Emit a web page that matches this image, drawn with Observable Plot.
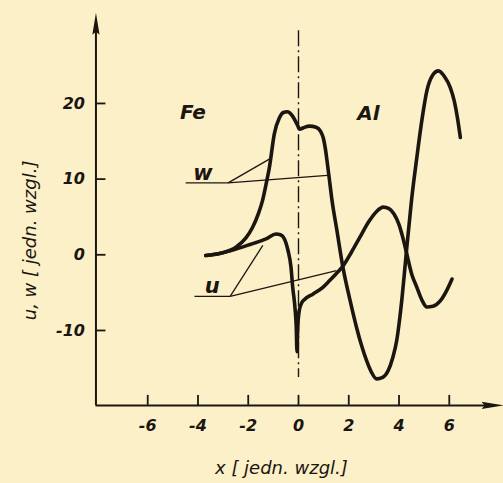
<!DOCTYPE html>
<html>
<head>
<meta charset="utf-8">
<script src="https://cdn.jsdelivr.net/npm/d3@7"></script>
<script src="https://cdn.jsdelivr.net/npm/@observablehq/plot@0.6"></script>
<style>
  html, body { margin: 0; padding: 0; background: #fbf0c8; }
  #chart svg { display: block; }
</style>
</head>
<body>
<div id="chart"></div>
<script>
// ---- data ----
const wCurve = [
  [-3.69,-0.1],[-3.1,0.2],[-2.49,1.0],[-2.1,2.2],[-1.83,3.6],[-1.6,5.4],[-1.43,7.2],[-1.28,9.5],
  [-1.16,11.5],[-0.96,16.0],[-0.76,18.1],[-0.6,18.8],[-0.45,18.9],[-0.25,18.4],[-0.05,17.2],[0.05,16.6],
  [0.2,16.8],[0.44,17.0],[0.7,16.85],[0.88,16.3],[0.99,15.4],[1.07,14.0],[1.14,12.3],[1.22,10.2],
  [1.35,6.8],[1.51,3.6],[1.77,-1.7],[2.05,-6.0],[2.31,-9.6],[2.51,-12.0],[2.71,-14.0],[2.9,-15.5],
  [3.11,-16.4],[3.35,-16.2],[3.57,-15.3],[3.75,-13.6],[3.91,-11.3],[4.01,-8.9],[4.11,-6.0],[4.21,-2.6],
  [4.31,1.0],[4.5,7.3],[4.71,12.9],[4.91,17.8],[5.11,21.7],[5.33,23.7],[5.57,24.3],[5.8,23.6],
  [6.04,22.1],[6.2,20.3],[6.33,18.0],[6.44,15.5]
];
const uCurve = [
  [-3.69,-0.1],[-3.1,0.2],[-2.49,0.75],[-1.9,1.4],[-1.29,2.1],[-0.89,2.75],[-0.72,2.65],[-0.56,2.1],
  [-0.42,0.6],[-0.3,-1.6],[-0.23,-4.3],[-0.14,-7.0],[-0.09,-9.5],[-0.06,-12.8],[-0.03,-9.5],[0.03,-7.4],
  [0.12,-6.4],[0.24,-5.9],[0.57,-5.2],[0.97,-4.3],[1.24,-3.4],[1.5,-2.5],[1.77,-1.5],[2.1,0.3],
  [2.44,2.3],[2.8,4.4],[3.1,5.7],[3.37,6.3],[3.6,6.1],[3.8,5.4],[4.0,4.0],[4.15,2.3],
  [4.31,0.1],[4.5,-2.5],[4.71,-4.3],[4.9,-5.9],[5.11,-6.9],[5.35,-6.8],[5.64,-6.1],[5.9,-4.7],
  [6.11,-3.2]
];
// leader lines: [x1, y1, x2, y2]
const leaders = [
  [-4.49, 9.5, -2.8, 9.5], [-2.8, 9.5, -1.16, 12.65], [-2.8, 9.5, 1.15, 10.5],
  [-4.14, -5.5, -2.72, -5.5], [-2.72, -5.5, -1.42, 1.25], [-2.72, -5.5, 1.51, -2.1]
];
const curveLabels = [
  {x: -3.8, y: 10.8, text: "w"},
  {x: -3.43, y: -4.2, text: "u"}
];
const regionLabels = [
  {x: -4.2, y: 18.8, text: "Fe"},
  {x: 2.78, y: 18.6, text: "Al"}
];
const xTicks = [-6, -4, -2, 0, 2, 4, 6];
const yTicks = [-10, 0, 10, 20];
const xTitle = "x [ jedn. wzgl.]";
const yTitle = "u, w [ jedn. wzgl.]";
const interfaceLine = {x: 0, y1: 29.6, y2: -16.2};
const axisMinX = -8.06, axisMaxX = 8.16, axisMinY = -19.9, axisMaxY = 32.0;

// ---- drawing ----
const ink = "#1c1611";
const font = "DejaVu Sans";
const arrowSymbol = {
  draw(ctx, size) {
    ctx.moveTo(0, 0);
    ctx.lineTo(3.6, 22);
    ctx.lineTo(0, 19);
    ctx.lineTo(-3.6, 22);
    ctx.closePath();
  }
};
const xTickLen = 10 / 25.13;   // tick length in x units
const yTickLen = 10 / 7.567;   // tick length in y units

const chart = Plot.plot({
  width: 503,
  height: 483,
  margin: 0,
  x: {domain: [-298 / 25.13, (503 - 298) / 25.13], axis: null},
  y: {domain: [-(483 - 254.3) / 7.567, 254.3 / 7.567], axis: null},
  style: {background: "#fbf0c8", color: ink, fontFamily: font},
  marks: [
    // axes
    Plot.ruleX([axisMinX], {y1: axisMinY, y2: axisMaxY - 2, stroke: ink, strokeWidth: 2}),
    Plot.ruleY([axisMinY], {x1: axisMinX, x2: axisMaxX - 0.5, stroke: ink, strokeWidth: 2}),
    Plot.dot([[axisMinX, axisMaxY]], {x: d => d[0], y: d => d[1], symbol: arrowSymbol, r: 5, fill: ink, stroke: "none"}),
    Plot.dot([[axisMaxX, axisMinY]], {x: d => d[0], y: d => d[1], symbol: arrowSymbol, r: 5, rotate: 90, fill: ink, stroke: "none"}),
    // ticks
    Plot.ruleX(xTicks, {y1: axisMinY, y2: axisMinY + yTickLen, stroke: ink, strokeWidth: 1.8}),
    Plot.ruleY(yTicks, {x1: axisMinX, x2: axisMinX + xTickLen, stroke: ink, strokeWidth: 1.8}),
    Plot.text(xTicks, {x: d => d, y: axisMinY, dy: 20, text: d => d === 0 ? "0" : (d < 0 ? "-" + (-d) : String(d)),
      fontSize: 16, fontWeight: "bold", fontStyle: "italic", fill: ink}),
    Plot.text(yTicks, {x: axisMinX, y: d => d, dx: -11, textAnchor: "end", text: d => d < 0 ? "-" + (-d) : String(d),
      fontSize: 16, fontWeight: "bold", fontStyle: "italic", fill: ink}),
    // axis titles
    Plot.text([xTitle], {x: -0.68, y: -28.2, text: d => d, fontSize: 18, fontStyle: "italic", fill: ink}),
    Plot.text([yTitle], {x: -10.66, y: 1.9, text: d => d, rotate: -90, fontSize: 18, fontStyle: "italic", fill: ink}),
    // interface dash-dot line
    Plot.ruleX([interfaceLine], {x: "x", y1: "y1", y2: "y2", stroke: ink, strokeWidth: 1.4, strokeDasharray: "16,4,2,4"}),
    // leader lines
    Plot.link(leaders, {x1: d => d[0], y1: d => d[1], x2: d => d[2], y2: d => d[3], stroke: ink, strokeWidth: 1.3}),
    // curves
    Plot.line(wCurve, {x: d => d[0], y: d => d[1], stroke: ink, strokeWidth: 3.6, curve: "monotone-x", strokeLinecap: "round"}),
    Plot.line(uCurve, {x: d => d[0], y: d => d[1], stroke: ink, strokeWidth: 3.6, curve: "monotone-x", strokeLinecap: "round"}),
    // labels
    Plot.text(curveLabels, {x: "x", y: "y", text: "text", fontSize: 21, fontWeight: "bold", fontStyle: "italic", fill: ink}),
    Plot.text(regionLabels, {x: "x", y: "y", text: "text", fontSize: 20, fontWeight: "bold", fontStyle: "italic", fill: ink})
  ]
});
document.getElementById("chart").appendChild(chart);
</script>
</body>
</html>
